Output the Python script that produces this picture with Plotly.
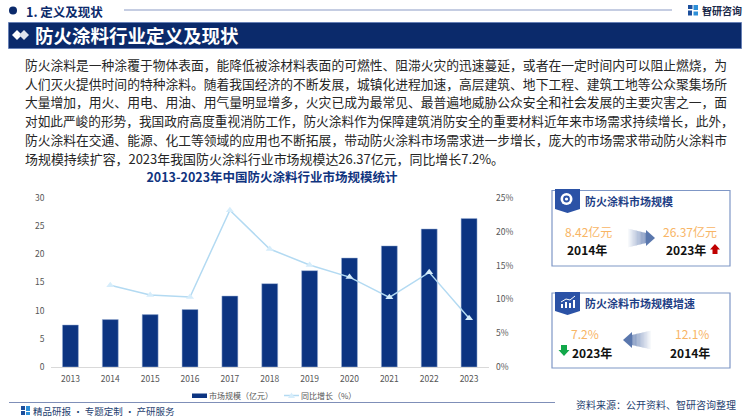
import plotly.graph_objects as go

years = ["2013","2014","2015","2016","2017","2018","2019","2020","2021","2022","2023"]
market_size = [7.46,8.42,9.3,10.2,12.6,14.8,17.1,19.35,21.5,24.5,26.37]
yoy_growth = [None,12.1,10.65,10.35,23.2,17.45,15.1,13.3,10.3,14.0,7.2]
y_ticks = [0,5,10,15,20,25,30]
pct_ticks = [0,5,10,15,20,25]
pct_labels = ["0%","5%","10%","15%","20%","25%"]
body_lines = [
 "防火涂料是一种涂覆于物体表面，能降低被涂材料表面的可燃性、阻滞火灾的迅速蔓延，或者在一定时间内可以阻止燃烧，为",
 "人们灭火提供时间的特种涂料。随着我国经济的不断发展，城镇化进程加速，高层建筑、地下工程、建筑工地等公众聚集场所",
 "大量增加，用火、用电、用油、用气量明显增多，火灾已成为最常见、最普遍地威胁公众安全和社会发展的主要灾害之一，面",
 "对如此严峻的形势，我国政府高度重视消防工作，防火涂料作为保障建筑消防安全的重要材料近年来市场需求持续增长，此外，",
 "防火涂料在交通、能源、化工等领域的应用也不断拓展，带动防火涂料市场需求进一步增长，庞大的市场需求带动防火涂料市",
 "场规模持续扩容，2023年我国防火涂料行业市场规模达26.37亿元，同比增长7.2%。",
]
body_sizes = [12.78, 12.78, 12.78, 12.66, 12.78, 12.95]

W, H = 750, 420
FONT = "Noto Sans CJK SC"
NAVY = "#0b2a6b"
BAR = "#0c3481"
ORANGE = "#f8b565"
CARD = "#7f97c6"
TAB = "#2b52a6"
px = lambda x: x / W
py = lambda y: 1 - y / H

shapes, annos = [], []

def rect(x0, y0, x1, y1, fill=None, line=None, lw=1):
    shapes.append(dict(type="rect", xref="paper", yref="paper", x0=px(x0), x1=px(x1), y0=py(y0), y1=py(y1),
                       fillcolor=fill or "rgba(0,0,0,0)", line=dict(color=line or "rgba(0,0,0,0)", width=lw if line else 0), layer="below"))

def hline(x0, x1, y, color, lw=1):
    shapes.append(dict(type="line", xref="paper", yref="paper", x0=px(x0), x1=px(x1), y0=py(y), y1=py(y),
                       line=dict(color=color, width=lw), layer="below"))

def poly(pts, fill, opacity=1):
    d = "M" + " L".join(f"{px(x):.5f},{py(y):.5f}" for x, y in pts) + " Z"
    shapes.append(dict(type="path", xref="paper", yref="paper", path=d, fillcolor=fill,
                       line=dict(width=0), opacity=opacity, layer="below"))

def circle(cx, cy, r, fill):
    shapes.append(dict(type="circle", xref="paper", yref="paper", x0=px(cx-r), x1=px(cx+r), y0=py(cy+r), y1=py(cy-r),
                       fillcolor=fill, line=dict(width=0), layer="below"))

def text(x, y, s, size, color="#222222", bold=False, anchor="left"):
    annos.append(dict(xref="paper", yref="paper", x=px(x), y=py(y), text=f"<b>{s}</b>" if bold else s, showarrow=False,
                      xanchor=anchor, yanchor="middle", font=dict(family=FONT, size=size, color=color),
                      borderpad=0, borderwidth=0))

def grad_arrow(x_tail, x_head, yc, steps=14):
    d = 1 if x_head > x_tail else -1
    total = abs(x_head - x_tail)
    head_len = 9
    shaft = total - head_len
    for i in range(steps):
        a = x_tail + d * shaft * i / steps
        b = x_tail + d * shaft * (i + 1) / steps
        half = 9.5 - 4.5 * (i + 0.5) / steps
        poly([(a, yc-half), (b, yc-half), (b, yc+half), (a, yc+half)], "#3d5f9f", 0.04 + 0.66 * i / steps)
    b = x_tail + d * shaft
    poly([(b, yc-8), (x_head, yc), (b, yc+8)], "#3d5f9f", 0.85)

# Header
circle(13, 10.5, 4, NAVY)
text(26, 11, "1. 定义及现状", 12.5, NAVY, True)
hline(124, 672, 10, "#8c9cc6", 1.2)
rect(8.5, 22.5, 741.5, 48.5, NAVY, "#5f7bb5", 0.8)
poly([(12,35),(17,30),(22,35),(17,40)], "white")
poly([(19,35),(24,30),(29,35),(24,40)], "#dfe4ee")
text(35, 35, "防火涂料行业定义及现状", 18.5, "white", True)
# Logo
rect(688, 5, 692.5, 9, "#1d4f9c"); rect(688, 10.5, 692, 15.5, "#1d4f9c")
rect(693.5, 5, 698, 10, "#2d8fd8"); rect(693.5, 11.5, 698, 15.5, "#2d8fd8")
text(702, 10, "智研咨询", 10, "#1b2a4a", True)

# Body text
for i, (line, size) in enumerate(zip(body_lines, body_sizes)):
    text(25, 64.5 + i * 18.7, line, size, "#262626")

# Card 1
rect(552, 190.5, 730, 266, "white", CARD, 1.2)
poly([(555,189),(580,189),(580,209),(567.5,213),(555,209)], TAB)
circle(566.5, 199, 6, "white"); circle(566.5, 199, 3.4, TAB); circle(566.5, 199, 1.6, "white")
text(585, 201, "防火涂料市场规模", 11, "#1f3f86", True)
text(588, 231, "8.42亿元", 12, ORANGE, False, "center")
text(587, 249, "2014年", 12, "#111111", True, "center")
text(690, 231, "26.37亿元", 12, ORANGE, False, "center")
text(686, 249, "2023年", 12, "#111111", True, "center")
grad_arrow(628, 655, 238)
poly([(715,244),(720,249.5),(717.5,249.5),(717.5,254),(712.5,254),(712.5,249.5),(710,249.5)], "#c00000")

# Card 2
rect(552, 293, 730, 368, "white", CARD, 1.2)
poly([(555,292),(580,292),(580,311),(567.5,315),(555,311)], TAB)
rect(561, 304, 563, 308, "white"); rect(565, 302, 567, 308, "white"); rect(569, 303, 571, 308, "white"); rect(573, 300, 575, 308, "white")
shapes.append(dict(type="path", xref="paper", yref="paper",
                   path=f"M{px(561)},{py(302)} L{px(566)},{py(299)} L{px(570)},{py(300)} L{px(575)},{py(296)}",
                   line=dict(color="white", width=1), layer="below"))
text(585, 303, "防火涂料市场规模增速", 11, "#1f3f86", True)
text(585, 333, "7.2%", 12, ORANGE, False, "center")
text(592, 352, "2023年", 12, "#111111", True, "center")
text(692, 333, "12.1%", 12, ORANGE, False, "center")
text(690, 352, "2014年", 12, "#111111", True, "center")
grad_arrow(651, 623, 340)
poly([(564,356),(569.5,350),(567,350),(567,345),(561,345),(561,350),(558.5,350)], "#12a84a")

# Chart legend
rect(192, 393.5, 207, 398, BAR)
text(209, 395.5, "市场规模（亿元）", 8, "#555555")
hline(284, 299, 395.5, "#b3daf2", 1.5)
poly([(291.5,392.5),(295,398),(288,398)], "#d6edfb")
text(301, 395.5, "同比增长（%）", 8, "#555555")

# Footer
hline(9, 555, 402.5, "#7f8fb8", 1.2)
text(576, 404, "资料来源：公开资料、智研咨询整理", 10, "#1f3f70")
rect(21, 406, 25, 410, "#1d4f9c"); rect(21, 411, 25, 415, "#1d4f9c")
rect(26, 406, 30, 411, "#2d8fd8"); rect(26, 412, 30, 415, "#2d8fd8")
text(33, 411, "精品研报 · 专题定制 · 产研服务", 9.5, "#1f3f70")

fig = go.Figure()
fig.add_trace(go.Bar(x=years, y=market_size, name="市场规模（亿元）", marker=dict(color=BAR, line=dict(color="#9fb4d8", width=0.5)), width=0.4, yaxis="y"))
fig.add_trace(go.Scatter(x=years, y=yoy_growth, name="同比增长（%）", mode="lines+markers", yaxis="y2",
                         line=dict(color="#b3daf2", width=1.5),
                         marker=dict(symbol="triangle-up", size=7, color="#d6edfb")))
fig.update_layout(
    width=W, height=H, margin=dict(l=0, r=0, t=0, b=0, pad=0, autoexpand=False), autosize=False,
    paper_bgcolor="white", plot_bgcolor="rgba(0,0,0,0)",
    font=dict(family=FONT, size=8.5, color="#555555"),
    title=dict(text="<b>2013-2023年中国防火涂料行业市场规模统计</b>", x=272/W, xanchor="center", y=py(178), yanchor="middle",
               font=dict(family=FONT, size=12.5, color="#10347f"), automargin=False),
    xaxis=dict(domain=[50.5/W, 489/W], range=[-0.5,10.5], anchor="y", type="category", automargin=False, showgrid=False, showline=True, linecolor="#d9d9d9", linewidth=1, ticks="", tickfont=dict(size=8.5), ticklen=0, ticklabelstandoff=4),
    yaxis=dict(domain=[py(367), py(198)], range=[0,30], automargin=False, tickvals=y_ticks, showgrid=False, zeroline=False, showline=False, ticks="", tickfont=dict(size=8.5), ticklabelstandoff=5),
    yaxis2=dict(domain=[py(367), py(198)], range=[0,25], automargin=False, overlaying="y", side="right", anchor="x", tickvals=pct_ticks, ticktext=pct_labels, showgrid=False, zeroline=False, showline=False, ticks="", tickfont=dict(size=8.5), ticklabelstandoff=6),
    bargap=0.6, shapes=shapes, annotations=annos, showlegend=False,
)
fig.write_html("out.html", config=dict(displayModeBar=False), post_script="document.body.style.margin='0';document.body.style.overflow='hidden';")
